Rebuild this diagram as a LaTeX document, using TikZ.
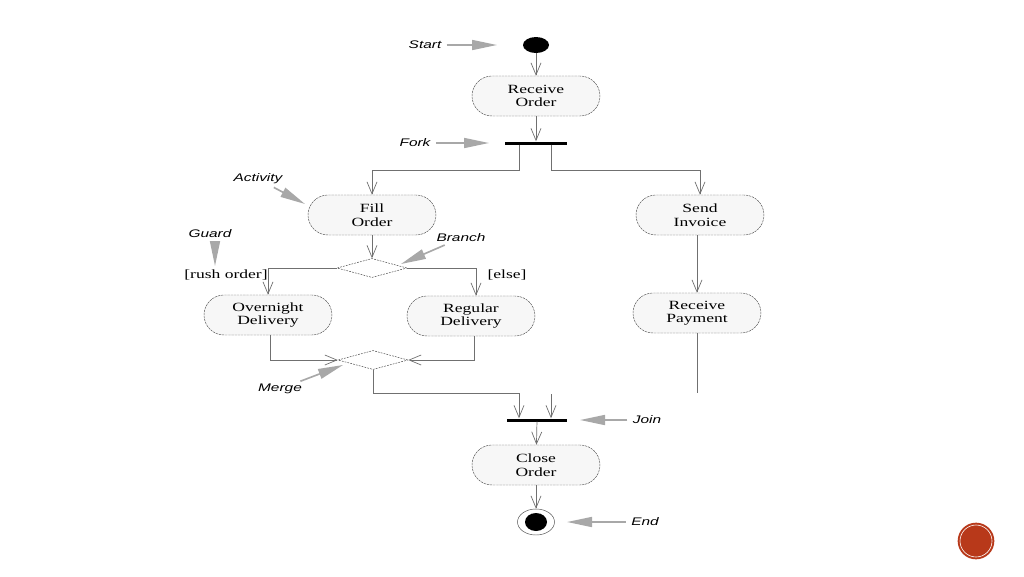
\documentclass[tikz,border=0pt]{standalone}
\usepackage{fontspec}
\usepackage{xcolor}
\usetikzlibrary{arrows.meta, shapes}
\newfontfamily\actfont[FakeStretch=1.4]{Liberation Serif}
\newfontfamily\notefont[FakeStretch=1.4]{Liberation Sans}
\definecolor{flowgray}{HTML}{707070}
\definecolor{notegray}{HTML}{A8A8A8}
\definecolor{pagered}{HTML}{B8391A}

\begin{document}
\begin{tikzpicture}[x=0.03cm, y=-0.03cm,
    act/.style={rectangle, rounded corners=0.6cm, draw=black!65, dash pattern=on 2pt off 0.7pt, fill=black!3, minimum width=3.84cm, minimum height=1.2cm, align=center, font=\actfont\fontsize{10.7}{11.5}\selectfont},
    bar/.style={rectangle, fill=black, minimum width=1.86cm, minimum height=0.09cm, inner sep=0pt},
    choice/.style={diamond, draw=black!75, dash pattern=on 1.5pt off 1pt, minimum width=2.1cm, minimum height=0.57cm, inner sep=0pt},
    flow/.style={draw=flowgray, line width=0.6pt, -{Straight Barb[length=0.36cm, width=0.3cm]}},
    wire/.style={draw=flowgray, line width=0.6pt},
    note/.style={draw=notegray, line width=1.4pt, shorten <=0.12cm, -{Triangle[length=0.75cm, width=0.3cm]}},
    notelabel/.style={font=\notefont\itshape\fontsize{9.4}{11}\selectfont, inner sep=1pt},
    guard/.style={font=\actfont\fontsize{10.7}{11.5}\selectfont, inner sep=1pt}]
    \useasboundingbox (0,0) rectangle (1024,576);

    % Nodes
    \node[ellipse, fill=black, minimum width=0.78cm, minimum height=0.48cm, inner sep=0pt] (initial) at (536,45) {};
    \node[act] (recv) at (536,96) {Receive\\Order};
    \node[bar] (fork) at (536,143) {};
    \node[act] (fillorder) at (372,215) {Fill\\Order};
    \node[act] (invoice) at (700,215) {Send\\Invoice};
    \node[choice] (branch) at (372,268) {};
    \node[act] (overnight) at (268,315) {Overnight\\Delivery};
    \node[act] (regular) at (471,316) {Regular\\Delivery};
    \node[act] (payment) at (697,313) {Receive\\Payment};
    \node[choice] (merge) at (373,360) {};
    \node[bar, minimum width=1.8cm] (join) at (537,420) {};
    \node[act] (close) at (536,465) {Close\\Order};
    \node[ellipse, draw=black!70, fill=white, minimum width=1.11cm, minimum height=0.78cm, inner sep=0pt] (final) at (536,522) {};
    \node[ellipse, fill=black, minimum width=0.66cm, minimum height=0.54cm, inner sep=0pt] (finalcore) at (536,522) {};

    % Guards
    \node[guard] (rush) at (226,275) {[rush order]};
    \node[guard] (elselabel) at (507,275) {[else]};

    % Paths
    \draw[flow] (initial) -- (recv);
    \draw[flow] (recv) -- (fork);
    \draw[flow] ([xshift=-0.51cm]fork.south) -- ++(0,26) -| (fillorder);
    \draw[flow] ([xshift=0.45cm]fork.south) -- ++(0,26) -| (invoice);
    \draw[flow] (fillorder) -- (branch);
    \draw[flow] (branch.west) -| (overnight);
    \draw[flow] (branch.east) -| ([xshift=0.15cm]regular.north);
    \draw[flow] (payment.north |- invoice.south) -- (payment);
    \coordinate (payend) at (697,393);
    \draw[wire] (payment) -- (payend);
    \draw[flow] ([xshift=0.06cm]overnight.south) |- (merge.west);
    \draw[flow] ([xshift=0.09cm]regular.south) |- (merge.east);
    \draw[flow] (merge.south) -- ++(0,24) -| ([xshift=-0.54cm]join.north);
    \coordinate (joinin) at (551,394);
    \draw[flow] (joinin) -- (joinin |- join.north);
    \draw[flow] (join) -- (close);
    \draw[flow] (close) -- (final);

    % Notes
    \node[notelabel] (lstart) at (425,45) {Start};
    \coordinate (tstart) at (497,45);
    \draw[note] (lstart) -- (tstart);
    \node[notelabel] (lfork) at (415,143) {Fork};
    \coordinate (tfork) at (489,143);
    \draw[note] (lfork) -- (tfork);
    \node[notelabel] (lactivity) at (258,179) {Activity};
    \coordinate (tactivity) at (305,204);
    \draw[note] (lactivity) -- (tactivity);
    \node[notelabel] (lguard) at (210,234) {Guard};
    \coordinate (tguard) at (215,266);
    \draw[note] (lguard.south -| tguard) -- (tguard);
    \node[notelabel] (lbranch) at (461,238) {Branch};
    \coordinate (tbranch) at (401,264);
    \draw[note] (lbranch) -- (tbranch);
    \node[notelabel] (lmerge) at (280,389) {Merge};
    \coordinate (tmerge) at (343,365);
    \draw[note] (lmerge) -- (tmerge);
    \node[notelabel] (ljoin) at (647,420) {Join};
    \coordinate (tjoin) at (580,420);
    \draw[note] (ljoin) -- (tjoin);
    \node[notelabel] (lend) at (645,522) {End};
    \coordinate (tend) at (567,522);
    \draw[note] (lend) -- (tend);

    % Page mark
    \node[circle, fill=pagered, minimum size=1.1cm, inner sep=0pt] (pagemark) at (976,541) {};
    \draw[white, line width=0.5pt] (pagemark) circle (0.48cm);
\end{tikzpicture}
\end{document}
